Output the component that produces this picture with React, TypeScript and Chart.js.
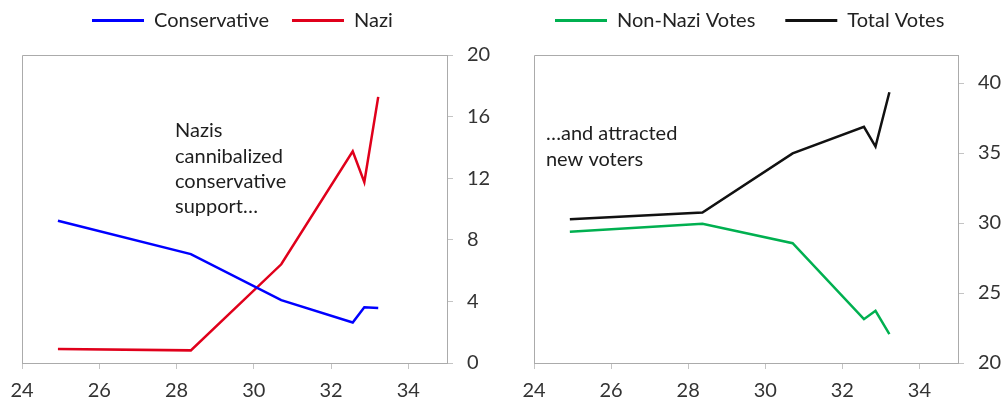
import React, { useEffect, useRef } from 'react';
import { Chart, registerables } from 'chart.js';

Chart.register(...registerables);

// ---- data (x = election date, years after 1900) ----
const electionDates = [24.93, 28.37, 30.71, 32.56, 32.86, 33.22];
const conservativeVotes = [9.24, 7.07, 4.08, 2.63, 3.62, 3.57];
const naziVotes = [0.91, 0.82, 6.41, 13.75, 11.74, 17.28];
const nonNaziVotes = [29.37, 29.95, 28.56, 23.13, 23.73, 22.06];
const totalVotes = [30.27, 30.75, 34.97, 36.87, 35.46, 39.34];

const xTickValues = [24, 26, 28, 30, 32, 34];
const leftYTickValues = [0, 4, 8, 12, 16, 20];
const rightYTickValues = [20, 25, 30, 35, 40];

const leftNote = ['Nazis', 'cannibalized', 'conservative', 'support…'];
const rightNote = ['…and attracted', 'new voters'];

// ---- styles ----
const FONT = 'Lato';
const AXIS_COLOR = '#ababab';
const TICK_COLOR = '#c4c4c4';
const TEXT_COLOR = '#333333';
const NOTE_COLOR = '#1e1e1e';

type Series = { label: string; values: number[]; color: string };

type PanelSpec = {
  series: Series[];
  yMin: number;
  yMax: number;
  yTicks: number[];
  padding: { left: number; right: number; top: number; bottom: number };
  legendPadding: number;
  legendX: number;
  yWidth: number;
  note: string[];
  noteX: number;
  noteY: number;
};

const framePlugin = {
  id: 'frame',
  beforeDatasetsDraw(chart: any) {
    const { ctx, chartArea } = chart;
    const l = Math.round(chartArea.left) + 0.5;
    const t = Math.round(chartArea.top) + 0.5;
    ctx.save();
    ctx.strokeStyle = AXIS_COLOR;
    ctx.lineWidth = 1;
    ctx.beginPath();
    ctx.moveTo(l, Math.round(chartArea.bottom));
    ctx.lineTo(l, t);
    ctx.lineTo(Math.round(chartArea.right), t);
    ctx.stroke();
    ctx.restore();
  },
};

const notePlugin = {
  id: 'note',
  afterDatasetsDraw(chart: any, _args: any, opts: any) {
    const { ctx, scales } = chart;
    const x = scales.x.getPixelForValue(opts.x);
    const y = scales.y.getPixelForValue(opts.y);
    ctx.save();
    ctx.font = `20px ${FONT}`;
    ctx.fillStyle = NOTE_COLOR;
    ctx.textAlign = 'left';
    ctx.textBaseline = 'alphabetic';
    (opts.lines as string[]).forEach((line, i) => ctx.fillText(line, x, y + i * 25.3));
    ctx.restore();
  },
};

// Gives the legend a fixed band height and places its first item.
const legendPlacePlugin = {
  id: 'legendPlace',
  beforeInit(chart: any, _args: any, opts: any) {
    const legend = chart.legend;
    if (!legend) return;
    const orig = legend.fit;
    legend.fit = function () {
      orig.call(this);
      this.height = opts.height;
    };
  },
  afterLayout(chart: any, _args: any, opts: any) {
    const legend = chart.legend;
    if (!legend) return;
    const pad = legend.options.labels.padding;
    const w = legend.width;
    legend.left = opts.x - pad;
    legend.right = legend.left + w;
    legend.top = opts.centerY - pad - 10;
    legend.bottom = legend.top + legend.height;
  },
};

function buildConfig(p: PanelSpec): any {
  return {
    type: 'line',
    data: {
      datasets: p.series.map((s) => ({
        label: s.label,
        data: electionDates.map((x, i) => ({ x, y: s.values[i] })),
        borderColor: s.color,
        backgroundColor: s.color,
        borderWidth: 2.5,
        pointRadius: 0,
        tension: 0,
        fill: false,
      })),
    },
    options: {
      animation: false,
      responsive: false,
      maintainAspectRatio: false,
      events: [],
      layout: { padding: p.padding },
      scales: {
        x: {
          type: 'linear',
          min: 24,
          max: 35,
          afterBuildTicks: (scale: any) => {
            scale.ticks = xTickValues.map((value) => ({ value }));
          },
          afterFit: (scale: any) => {
            scale.height = 39;
          },
          border: { display: true, color: AXIS_COLOR, width: 1 },
          grid: { drawOnChartArea: false, drawTicks: true, tickLength: 6, color: TICK_COLOR },
          ticks: { font: { family: FONT, size: 20 }, color: TEXT_COLOR, padding: 10, maxRotation: 0 },
        },
        y: {
          type: 'linear',
          position: 'right',
          min: p.yMin,
          max: p.yMax,
          afterBuildTicks: (scale: any) => {
            scale.ticks = p.yTicks.map((value) => ({ value }));
          },
          afterFit: (scale: any) => {
            scale.width = p.yWidth;
          },
          border: { display: true, color: AXIS_COLOR, width: 1 },
          grid: { drawOnChartArea: false, drawTicks: true, tickLength: 6, color: TICK_COLOR },
          ticks: { font: { family: FONT, size: 20 }, color: TEXT_COLOR, padding: 14 },
        },
      },
      plugins: {
        legend: {
          display: true,
          position: 'top',
          align: 'start',
          labels: {
            boxWidth: 52,
            boxHeight: 3,
            padding: p.legendPadding,
            color: '#222222',
            font: { family: FONT, size: 20 },
            generateLabels: (chart: any) =>
              Chart.defaults.plugins.legend.labels
                .generateLabels(chart)
                .map((l: any) => ({ ...l, lineWidth: 0 })),
          },
        },
        tooltip: { enabled: false },
        note: { lines: p.note, x: p.noteX, y: p.noteY },
        legendPlace: { height: 55, x: p.legendX, centerY: 20.5 },
      },
    },
    plugins: [framePlugin, notePlugin, legendPlacePlugin],
  };
}

const leftPanel: PanelSpec = {
  series: [
    { label: 'Conservative', values: conservativeVotes, color: '#0000ff' },
    { label: 'Nazi', values: naziVotes, color: '#e0001b' },
  ],
  yMin: 0,
  yMax: 20,
  yTicks: leftYTickValues,
  padding: { left: 22, right: 0, top: 0, bottom: 0 },
  legendPadding: 23,
  legendX: 92,
  yWidth: 53,
  note: leftNote,
  noteX: 27.96,
  noteY: 14.66,
};

const rightPanel: PanelSpec = {
  series: [
    { label: 'Non-Nazi Votes', values: nonNaziVotes, color: '#00b050' },
    { label: 'Total Votes', values: totalVotes, color: '#111111' },
  ],
  yMin: 20,
  yMax: 42,
  yTicks: rightYTickValues,
  padding: { left: 34, right: 0, top: 0, bottom: 0 },
  legendPadding: 30,
  legendX: 55,
  yWidth: 47,
  note: rightNote,
  noteX: 24.31,
  noteY: 35.9,
};

function Panel({ spec, left, width }: { spec: PanelSpec; left: number; width: number }) {
  const ref = useRef<HTMLCanvasElement | null>(null);
  useEffect(() => {
    if (!ref.current) return;
    const chart = new Chart(ref.current, buildConfig(spec));
    return () => chart.destroy();
  }, [spec]);
  return (
    <canvas
      ref={ref}
      width={width}
      height={402}
      style={{ position: 'absolute', left, top: 0, width, height: 402, display: 'block' }}
    />
  );
}

export default function App() {
  return (
    <div
      style={{
        position: 'fixed',
        left: 0,
        top: 0,
        width: 1005,
        height: 402,
        background: '#ffffff',
        overflow: 'hidden',
      }}
    >
      <Panel spec={leftPanel} left={0} width={500} />
      <Panel spec={rightPanel} left={500} width={505} />
    </div>
  );
}
